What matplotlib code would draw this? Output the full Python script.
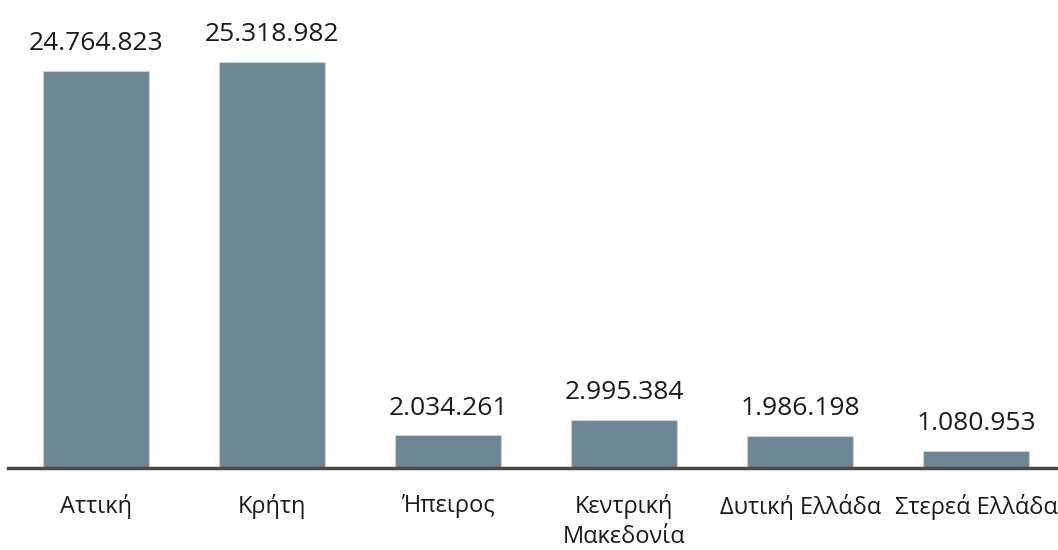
import matplotlib
matplotlib.use("Agg")
import matplotlib.pyplot as plt

categories = ["Αττική", "Κρήτη", "Ήπειρος", "Κεντρική\nΜακεδονία", "Δυτική Ελλάδα", "Στερεά Ελλάδα"]
values = [24764823, 25318982, 2034261, 2995384, 1986198, 1080953]
value_labels = ["24.764.823", "25.318.982", "2.034.261", "2.995.384", "1.986.198", "1.080.953"]

plt.rcParams['font.family'] = ['Open Sans', 'DejaVu Sans']

fig = plt.figure(figsize=(10.58, 5.5), dpi=100)
ax = fig.add_axes([8/1058, (550-468)/550, 1050/1058, 468/550])

x = list(range(len(categories)))
bars = ax.bar(x, values, width=0.602, color="#6f8693", edgecolor="#c9d3d9", linewidth=0.8, zorder=2)

for xi, v, lab in zip(x, values, value_labels):
    ax.annotate(lab, (xi, v), xytext=(0, 15), textcoords="offset points",
                ha="center", va="baseline", fontsize=19, color="#1a1a1a")

ax.set_xlim(-0.502, 5.464)
ax.set_ylim(0, 29.19e6)
ax.set_xticks(x)
ax.set_xticklabels(categories, fontsize=17, color="#1a1a1a", linespacing=1.3)
ax.tick_params(axis="x", length=0, pad=19)
ax.set_yticks([])
for s in ["top", "right", "left"]:
    ax.spines[s].set_visible(False)
ax.spines["bottom"].set_color("#4a4a4a")
ax.spines["bottom"].set_linewidth(2.5)
ax.spines["bottom"].set_zorder(3)

fig.savefig("out.png", dpi=100)
